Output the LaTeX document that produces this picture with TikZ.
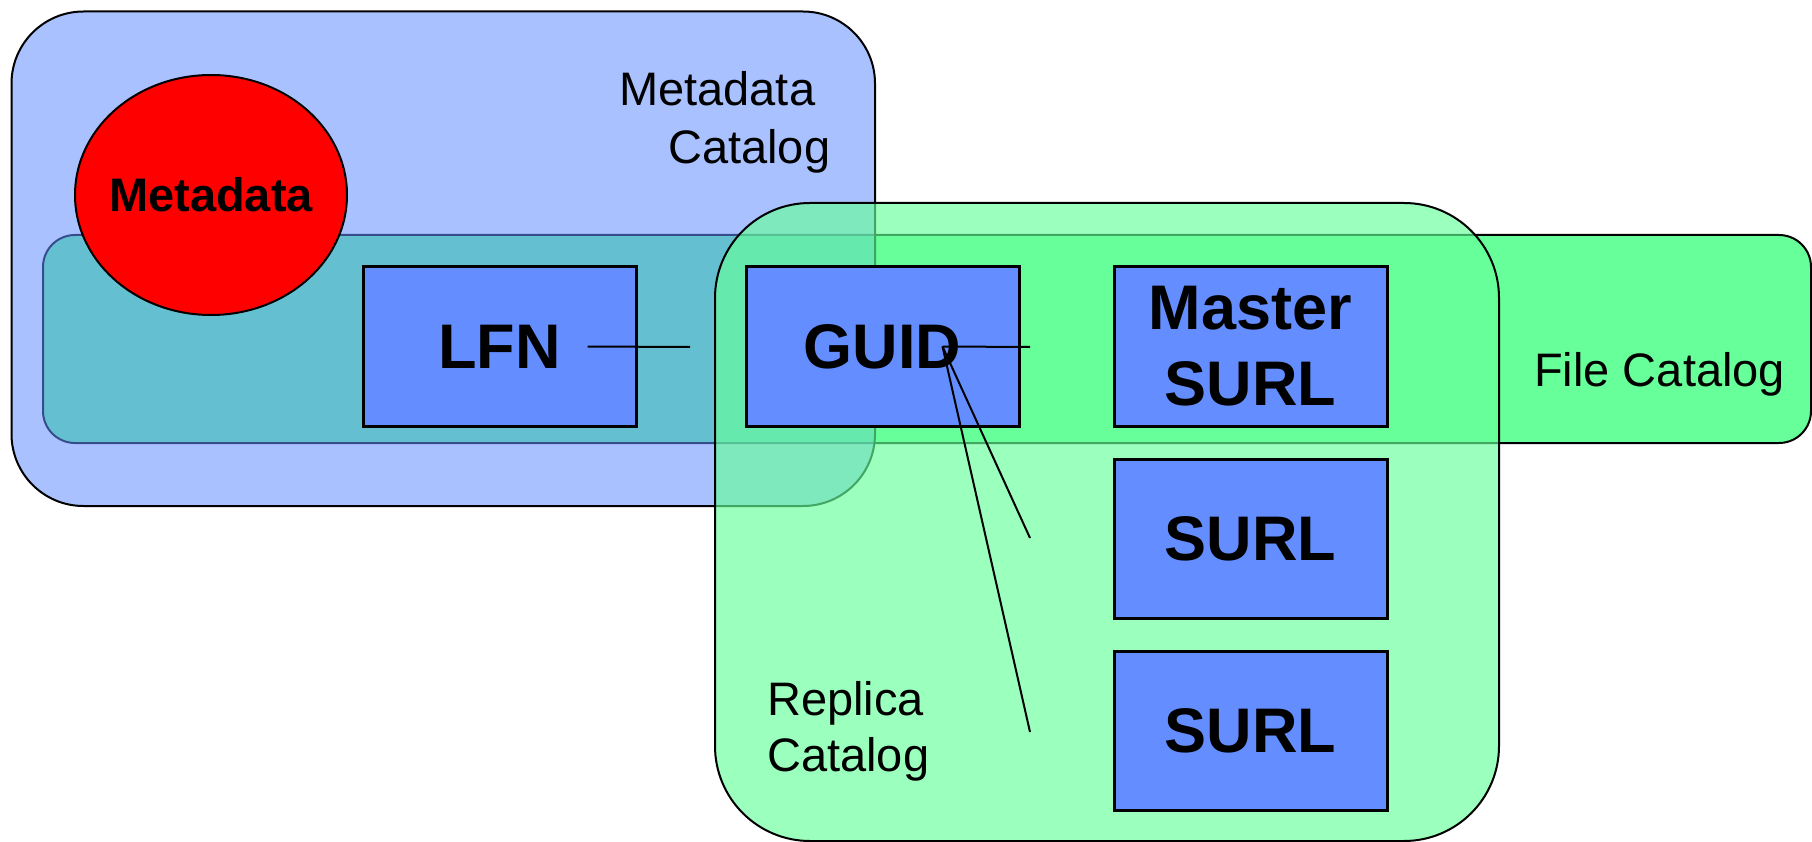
\documentclass[tikz,border=0pt]{standalone}
\usepackage{fontspec}
\setmainfont{Liberation Sans}
\usetikzlibrary{shapes.geometric}

\definecolor{boxblue}{RGB}{100,142,255}
\definecolor{catgreen}{RGB}{102,255,153}
\definecolor{metared}{RGB}{255,0,0}

\tikzset{
  catalog/.style={draw=black, line width=2pt},
  entry/.style={draw=black, line width=3pt, fill=boxblue,
    minimum width=273pt, minimum height=159pt, inner sep=0pt,
    font=\fontsize{63}{76}\selectfont\bfseries, align=center},
  cattext/.style={font=\fontsize{47}{58}\selectfont, inner sep=0pt},
  link/.style={draw=black, line width=2pt},
}

\begin{document}
\begin{tikzpicture}[x=1pt, y=-1pt]
  \useasboundingbox (0,0) rectangle (1812,842);

  % file catalog band
  \path[catalog, fill=catgreen, rounded corners=32pt] (43,235) rectangle (1811,443);

  % metadata catalog
  \path[catalog, fill=boxblue, fill opacity=0.55, rounded corners=72pt] (11.5,11.5) rectangle (875,506);

  % metadata ellipse, fixed size with its label set on top
  \node[ellipse, draw=black, line width=2pt, fill=metared,
        minimum width=272pt, minimum height=240pt, inner sep=0pt] (meta) at (211,195) {};
  \node[font=\fontsize{47}{56}\selectfont\bfseries, inner sep=0pt] (metatext) at (meta.center) {Metadata};

  % replica catalog
  \path[catalog, fill=catgreen, fill opacity=0.65, rounded corners=95pt] (715,203) rectangle (1499,841);

  % entries
  \node[entry] (lfn)    at (499.5,346.5) {LFN};
  \node[entry] (guid)   at (882.5,346.5) {GUID};
  \node[entry] (master) at (1250.5,346.5) {Master\\SURL};
  \node[entry] (surla)  at (1250.5,539) {SURL};
  \node[entry] (surlb)  at (1250.5,731) {SURL};

  % links
  \coordinate (lfnport)  at ([xshift=88pt]lfn.center);
  \coordinate (lfnend)   at (690,347);
  \coordinate (guidport) at ([xshift=60pt]guid.center);
  \coordinate (guidenda) at (1030,347);
  \coordinate (guidendb) at (1030,538);
  \coordinate (guidendc) at (1030,732);
  \draw[link] (lfnport) -- (lfnend);
  \draw[link] (guidport) -- (guidenda);
  \draw[link] (guidport) -- (guidendb);
  \draw[link] (guidport) -- (guidendc);

  % catalog captions
  \node[cattext, align=left, anchor=north west] (mccap) at (619,71) {Metadata\\\hspace*{49pt}Catalog};
  \node[cattext, anchor=base west] (fccap) at (1534,386) {File Catalog};
  \node[cattext, align=left, anchor=north west, font=\fontsize{47}{56}\selectfont] (rccap) at (767,681) {Replica\\Catalog};
\end{tikzpicture}
\end{document}
